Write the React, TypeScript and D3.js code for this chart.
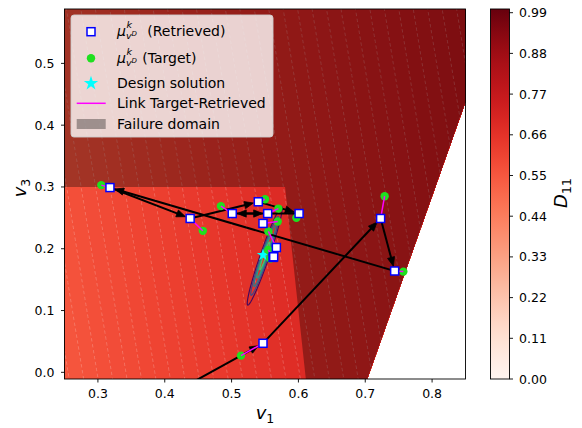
import React from "react";
import * as d3 from "d3";

// ---------- axes ----------
const X_DOMAIN = [0.25, 0.85];
const Y_DOMAIN = [-0.0108, 0.588];
const X_TICKS = [0.3, 0.4, 0.5, 0.6, 0.7, 0.8];
const Y_TICKS = [0.0, 0.1, 0.2, 0.3, 0.4, 0.5];
const CB_DOMAIN = [0, 1.0];
const CB_TICKS = [0, 0.11, 0.22, 0.33, 0.44, 0.55, 0.66, 0.77, 0.88, 0.99];

// ---------- D11 field (planar, read from the shading) ----------
const FIELD_REF = [0.25, 0.0]; // reference point
const FIELD_AT_REF = 0.55;
const FIELD_GRAD_X = 0.37;
const FIELD_GRAD_Y = 0.056;
const FIELD_LEVEL_STEP = 0.008;

// ---------- domains ----------
// failure domain boundary (v1, v3)
const FAIL_X = [0.2, 0.58, 0.613, 0.9, 0.9, 0.2];
const FAIL_Y = [0.3, 0.3, -0.03, -0.03, 0.65, 0.65];
// edge of the defined (non white) region
const EDGE_X = [0.703, 0.85];
const EDGE_Y = [-0.0108, 0.438];

// ---------- points ----------
const RETRIEVED_X = [0.318, 0.438, 0.501, 0.540, 0.554, 0.601, 0.547, 0.567, 0.562, 0.723, 0.744, 0.547, 0.563];
const RETRIEVED_Y = [0.299, 0.249, 0.257, 0.276, 0.257, 0.257, 0.241, 0.202, 0.186, 0.249, 0.164, 0.047, 0.187];
const TARGET_X = [0.305, 0.457, 0.484, 0.550, 0.570, 0.597, 0.569, 0.555, 0.555, 0.729, 0.757, 0.514, 0.558];
const TARGET_Y = [0.303, 0.229, 0.269, 0.280, 0.265, 0.250, 0.244, 0.228, 0.198, 0.285, 0.163, 0.027, 0.184];
// sequence of retrieved designs shown with arrows
const PATH_X = [0.40, 0.547, 0.723, 0.744, 0.318, 0.438, 0.540, 0.601, 0.501, 0.554];
const PATH_Y = [-0.041, 0.047, 0.249, 0.164, 0.299, 0.249, 0.276, 0.257, 0.257, 0.257];
const DESIGN = [0.547, 0.19];
// confidence ellipse of the design
const ELL_CENTER = [0.5496, 0.1884];
const ELL_MAJOR = [0.0254, 0.0796];
const ELL_MINOR = [0.0063, -0.0024];
const ELL_LEVELS = [1.0, 0.8, 0.62, 0.45, 0.28];
const ELL_COLORS = [0.02, 0.22, 0.42, 0.58, 0.72];

const W = 582, H = 428;
const PLOT = { left: 64.5, right: 465.5, top: 9, bottom: 379 };
const CB = { left: 490.5, right: 509.5, top: 9, bottom: 379 };
const FONT = "DejaVu Sans, Liberation Sans, sans-serif";

export default function App() {
  const xS = d3.scaleLinear().domain(X_DOMAIN).range([PLOT.left, PLOT.right]);
  const yS = d3.scaleLinear().domain(Y_DOMAIN).range([PLOT.bottom, PLOT.top]);
  const cS = d3.scaleLinear().domain(CB_DOMAIN).range([CB.bottom, CB.top]);

  // ---- field contours ----
  const GX0 = 0.2, GX1 = 0.9, GY0 = -0.06, GY1 = 0.64, NX = 141, NY = 141;
  const dxg = (GX1 - GX0) / (NX - 1), dyg = (GY1 - GY0) / (NY - 1);
  const values: number[] = new Array(NX * NY);
  for (let j = 0; j < NY; j++) {
    for (let i = 0; i < NX; i++) {
      const x = GX0 + i * dxg, y = GY0 + j * dyg;
      values[j * NX + i] = FIELD_AT_REF + FIELD_GRAD_X * (x - FIELD_REF[0]) + FIELD_GRAD_Y * (y - FIELD_REF[1]);
    }
  }
  const thresholds = d3.range(0, 1.0, FIELD_LEVEL_STEP);
  const contours = d3.contours().size([NX, NY]).thresholds(thresholds)(values);
  const proj = d3.geoTransform({
    point: function (px: number, py: number) {
      (this as any).stream.point(xS(GX0 + (px - 0.5) * dxg), yS(GY0 + (py - 0.5) * dyg));
    },
  });
  const geo = d3.geoPath(proj);

  const line = d3.line<[number, number]>().x((d) => xS(d[0])).y((d) => yS(d[1]));
  const failPts: [number, number][] = FAIL_X.map((x, i) => [x, FAIL_Y[i]]);
  const validPoly = [
    [X_DOMAIN[0], Y_DOMAIN[1]],
    [X_DOMAIN[1], Y_DOMAIN[1]],
    [EDGE_X[1], EDGE_Y[1]],
    [EDGE_X[0], EDGE_Y[0]],
    [X_DOMAIN[0], Y_DOMAIN[0]],
  ] as [number, number][];

  // ---- ellipses ----
  const ellipses = ELL_LEVELS.map((s, k) => {
    const pts: [number, number][] = d3.range(0, 361, 6).map((deg) => {
      const t = (deg * Math.PI) / 180;
      return [
        ELL_CENTER[0] + s * (Math.cos(t) * ELL_MAJOR[0] + Math.sin(t) * ELL_MINOR[0]),
        ELL_CENTER[1] + s * (Math.cos(t) * ELL_MAJOR[1] + Math.sin(t) * ELL_MINOR[1]),
      ];
    });
    return { d: d3.line().curve(d3.curveLinearClosed)(pts.map((p) => [xS(p[0]), yS(p[1])]) as any), color: d3.interpolateViridis(ELL_COLORS[k]) };
  });

  // ---- arrows ----
  const arrows = d3.range(PATH_X.length - 1).map((i) => {
    const x0 = xS(PATH_X[i]), y0 = yS(PATH_Y[i]);
    const x1 = xS(PATH_X[i + 1]), y1 = yS(PATH_Y[i + 1]);
    const len = Math.hypot(x1 - x0, y1 - y0);
    const ux = (x1 - x0) / len, uy = (y1 - y0) / len;
    const nx = -uy, ny = ux;
    const tipX = x1 - ux * 5, tipY = y1 - uy * 5;
    const hl = 9, hw = 3.6;
    const sx = x0 + ux * 4, sy = y0 + uy * 4;
    const ex = tipX - ux * hl * 0.7, ey = tipY - uy * hl * 0.7;
    const head = `M${tipX},${tipY}L${tipX - ux * hl + nx * hw},${tipY - uy * hl + ny * hw}L${tipX - ux * hl - nx * hw},${tipY - uy * hl - ny * hw}Z`;
    return { sx, sy, ex, ey, head };
  });

  const star = d3.symbol(d3.symbolStar, 48)();
  const starLegend = d3.symbol(d3.symbolStar, 64)();
  const sq = 8;

  const cbStops = d3.range(0, 1.0001, 0.05);

  return (
    <svg width={W} height={H} style={{ position: "absolute", left: 0, top: 0, background: "white" }} fontFamily={FONT}>
      <defs>
        <clipPath id="plotClip">
          <rect x={PLOT.left} y={PLOT.top} width={PLOT.right - PLOT.left} height={PLOT.bottom - PLOT.top} />
        </clipPath>
        <clipPath id="validClip">
          <path d={line(validPoly) + "Z"} />
        </clipPath>
        <linearGradient id="cbGrad" x1="0" y1="1" x2="0" y2="0">
          {cbStops.map((t) => (
            <stop key={t} offset={t} stopColor={d3.interpolateReds(t)} />
          ))}
        </linearGradient>
      </defs>

      {/* field */}
      <g clipPath="url(#validClip)">
        {contours.map((c, i) => (
          <path key={"f" + i} d={geo(c as any) || ""} fill={d3.interpolateReds(c.value + FIELD_LEVEL_STEP / 2)} stroke={d3.interpolateReds(c.value + FIELD_LEVEL_STEP / 2)} strokeWidth={0.3} />
        ))}
        {contours.map((c, i) => (
          <path key={"s" + i} d={geo(c as any) || ""} fill="none" stroke="white" strokeOpacity={0.28} strokeWidth={0.8} strokeDasharray="3.5 2.5" />
        ))}
        <path d={line(failPts) + "Z"} fill="black" fillOpacity={0.33} />
      </g>

      <g clipPath="url(#plotClip)">
        {ellipses.map((e, i) => (
          <path key={"e" + i} d={e.d || ""} fill="none" stroke={e.color} strokeWidth={1.2} />
        ))}
        {arrows.map((a, i) => (
          <g key={"a" + i}>
            <line x1={a.sx} y1={a.sy} x2={a.ex} y2={a.ey} stroke="black" strokeWidth={2} />
            <path d={a.head} fill="black" stroke="black" strokeWidth={0.8} />
          </g>
        ))}
        <path d={star || ""} transform={`translate(${xS(DESIGN[0])},${yS(DESIGN[1])})`} fill="#00ffff" />
        {TARGET_X.map((x, i) => (
          <circle key={"t" + i} cx={xS(x)} cy={yS(TARGET_Y[i])} r={4.2} fill="#1fe01f" />
        ))}
        {TARGET_X.map((x, i) => (
          <line key={"l" + i} x1={xS(x)} y1={yS(TARGET_Y[i])} x2={xS(RETRIEVED_X[i])} y2={yS(RETRIEVED_Y[i])} stroke="#ff00ff" strokeWidth={1.5} />
        ))}
        {RETRIEVED_X.map((x, i) => (
          <rect key={"r" + i} x={xS(x) - sq / 2} y={yS(RETRIEVED_Y[i]) - sq / 2} width={sq} height={sq} fill="white" stroke="#0000ff" strokeWidth={1.5} />
        ))}
      </g>

      {/* frame */}
      <rect x={PLOT.left} y={PLOT.top} width={PLOT.right - PLOT.left} height={PLOT.bottom - PLOT.top} fill="none" stroke="black" strokeWidth={0.9} />

      {/* x axis */}
      {X_TICKS.map((t) => (
        <g key={"xt" + t}>
          <line x1={xS(t)} x2={xS(t)} y1={PLOT.bottom} y2={PLOT.bottom + 3.5} stroke="black" strokeWidth={0.9} />
          <text x={xS(t)} y={PLOT.bottom + 19} textAnchor="middle" fontSize={12.5}>{t.toFixed(1)}</text>
        </g>
      ))}
      {Y_TICKS.map((t) => (
        <g key={"yt" + t}>
          <line x1={PLOT.left - 3.5} x2={PLOT.left} y1={yS(t)} y2={yS(t)} stroke="black" strokeWidth={0.9} />
          <text x={PLOT.left - 10} y={yS(t) + 4.5} textAnchor="end" fontSize={12.5}>{t.toFixed(1)}</text>
        </g>
      ))}
      <text x={265} y={419} textAnchor="middle">
        <tspan fontStyle="italic" fontSize={18}>v</tspan>
        <tspan fontSize={12.5} dy={4}>1</tspan>
      </text>
      <text transform="translate(25.5,188) rotate(-90)" textAnchor="middle">
        <tspan fontStyle="italic" fontSize={18}>v</tspan>
        <tspan fontSize={12.5} dy={4}>3</tspan>
      </text>

      {/* colorbar */}
      <rect x={CB.left} y={CB.top} width={CB.right - CB.left} height={CB.bottom - CB.top} fill="url(#cbGrad)" stroke="black" strokeWidth={0.9} />
      {CB_TICKS.map((t) => (
        <g key={"ct" + t}>
          <line x1={CB.right} x2={CB.right + 3.5} y1={cS(t)} y2={cS(t)} stroke="black" strokeWidth={0.9} />
          <text x={CB.right + 9.5} y={cS(t) + 4.5} fontSize={12.5}>{t.toFixed(2)}</text>
        </g>
      ))}
      <text transform="translate(567,193) rotate(-90)" textAnchor="middle">
        <tspan fontStyle="italic" fontSize={18}>D</tspan>
        <tspan fontSize={12.5} dy={4}>11</tspan>
      </text>

      {/* legend */}
      <rect x={71} y={15} width={202} height={122} rx={3} fill="white" fillOpacity={0.8} stroke="#cccccc" strokeWidth={0.9} />
      <rect x={91 - sq / 2} y={31.7 - sq / 2} width={sq} height={sq} fill="white" stroke="#0000ff" strokeWidth={1.5} />
      <g fontSize={14}>
        <text x={117} y={36} fontStyle="italic">μ</text>
        <text x={126.5} y={28} fontStyle="italic" fontSize={9.5}>k</text>
        <text x={126} y={39} fontStyle="italic" fontSize={9.5}>v</text>
        <text x={131.5} y={35.5} fontStyle="italic" fontSize={7}>D</text>
        <text x={147.3} y={36}>(Retrieved)</text>
      </g>
      <circle cx={91} cy={58.3} r={4.2} fill="#1fe01f" />
      <g fontSize={14}>
        <text x={117} y={63} fontStyle="italic">μ</text>
        <text x={126.5} y={55} fontStyle="italic" fontSize={9.5}>k</text>
        <text x={126} y={66} fontStyle="italic" fontSize={9.5}>v</text>
        <text x={131.5} y={62.5} fontStyle="italic" fontSize={7}>D</text>
        <text x={142.3} y={63}>(Target)</text>
      </g>
      <path d={starLegend || ""} transform="translate(91,83.3)" fill="#00ffff" />
      <text x={117} y={88} fontSize={14}>Design solution</text>
      <line x1={76.7} x2={105.7} y1={103.3} y2={103.3} stroke="#ff00ff" strokeWidth={1.5} />
      <text x={117} y={108} fontSize={14}>Link Target-Retrieved</text>
      <rect x={76.7} y={119} width={29} height={10} fill="black" fillOpacity={0.33} />
      <text x={117} y={129} fontSize={14}>Failure domain</text>
    </svg>
  );
}
